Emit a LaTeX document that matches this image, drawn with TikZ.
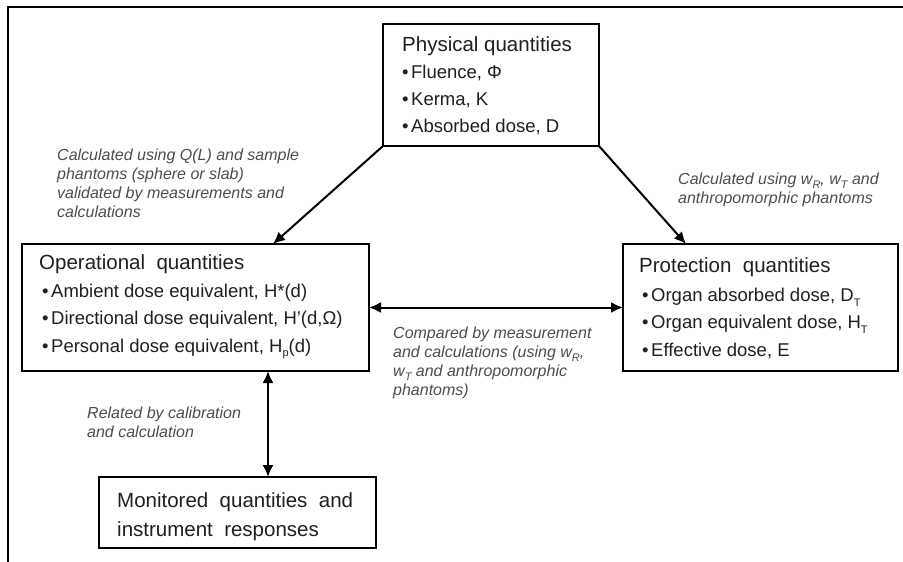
\documentclass[tikz,border=0pt]{standalone}
\usepackage{fontspec}
\setmainfont{Liberation Sans}
\usetikzlibrary{arrows.meta,calc}
\newcommand{\sbs}[1]{\raisebox{-0.25em}{\fontsize{11}{11}\selectfont #1}}
\newcommand{\bul}{\textbullet\hspace{2.5pt}}
\begin{document}
\begin{tikzpicture}[x=1pt,y=-1pt,
  frameline/.style={line width=1.4pt},
  box/.style={draw=black, line width=2pt, inner sep=0, outer sep=0, rectangle},
  title/.style={font=\fontsize{20.5}{28}\selectfont, text=black!88, anchor=base west, inner sep=0, align=left},
  items/.style={font=\fontsize{18.5}{27.3}\selectfont, text=black!88, anchor=base west, inner sep=0, align=left},
  note/.style={font=\fontsize{16}{19.2}\selectfont\itshape, text=black!70, anchor=base west, inner sep=0, align=left},
  conn/.style={line width=2pt, -{Latex[length=12pt,width=11pt]}},
  conntwo/.style={line width=2pt, {Latex[length=12pt,width=11pt]}-{Latex[length=12pt,width=11pt]}}
]
\useasboundingbox (0,0) rectangle (903,562);
\draw[frameline] (8,562) -- (8,7) -- (903,7);

% boxes
\node[box, minimum width=216pt, minimum height=122pt] (phys) at (491,85) {};
\node[box, minimum width=347pt, minimum height=127pt] (oper) at (195.5,307.5) {};
\node[box, minimum width=275pt, minimum height=127pt] (prot) at (760.5,307.5) {};
\node[box, minimum width=277pt, minimum height=71pt] (moni) at (237.5,512.5) {};

% box texts (multi-line nodes are anchored at the baseline of their last line)
\node[title] (physT) at (402,51) {Physical quantities};
\node[items] (physI) at (402,132.6) {\bul Fluence, Φ\\ \bul Kerma, K\\ \bul Absorbed dose, D};

\node[title] (operT) at (39,269) {Operational \ quantities};
\node[items] (operI) at (42,352) {\bul Ambient dose equivalent, H*(d)\\ \bul Directional dose equivalent, H'(d,Ω)\\ \bul Personal dose equivalent, H\sbs{p}(d)};

\node[title] (protT) at (639,272) {Protection \ quantities};
\node[items] (protI) at (642,356) {\bul Organ absorbed dose, D\sbs{T}\\ \bul Organ equivalent dose, H\sbs{T}\\ \bul Effective dose, E};

\node[title, font=\fontsize{20.5}{29}\selectfont] (moniT) at (117,536) {Monitored \ quantities \ and\\ instrument \ responses};

% notes
\node[note] (noteL) at (57,217.6) {Calculated using Q(L) and sample\\ phantoms (sphere or slab)\\ validated by measurements and\\ calculations};
\node[note] (noteR) at (678,203.2) {Calculated using w\sbs{R}, w\sbs{T} and\\ anthropomorphic phantoms};
\node[note] (noteM) at (393,395.6) {Compared by measurement\\ and calculations (using w\sbs{R},\\ w\sbs{T} and anthropomorphic\\ phantoms)};
\node[note] (noteB) at (87,437.2) {Related by calibration\\ and calculation};

% connectors
\coordinate (operIn) at (273,244);
\coordinate (protIn) at (686,244);
\coordinate (operOut) at (268,371);
\coordinate (moniIn) at (268,477);
\draw[conn] (phys.south west) -- (operIn);
\draw[conn] (phys.south east) -- (protIn);
\draw[conntwo] (oper.east) -- (prot.west);
\draw[conntwo] (operOut) -- (moniIn);
\end{tikzpicture}
\end{document}
